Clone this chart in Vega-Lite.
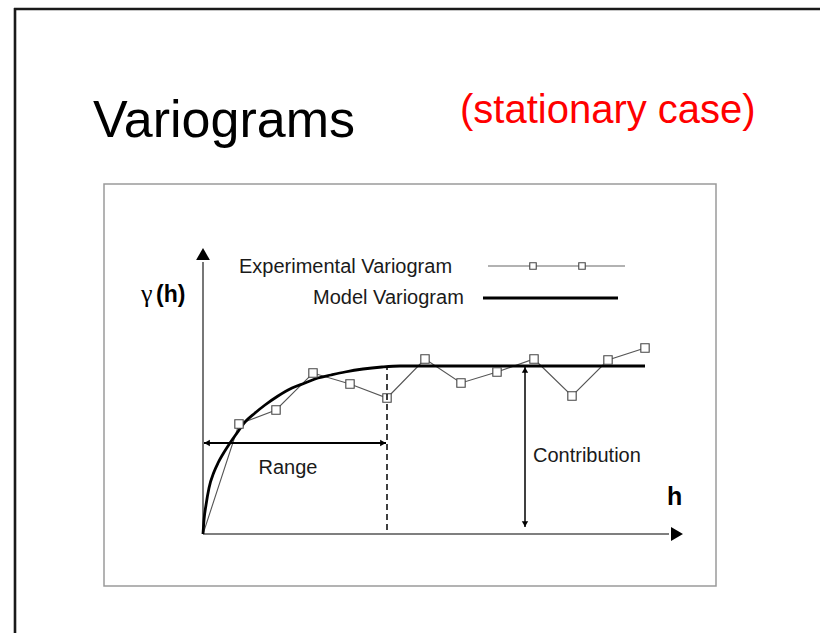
{
  "$schema": "https://vega.github.io/schema/vega-lite/v6.json",
  "width": 820,
  "height": 633,
  "autosize": "none",
  "padding": 0,
  "background": "white",
  "config": {"view": {"stroke": null}},
  "datasets": {
    "model": [
      {"h": 0, "g": 0}, {"h": 1, "g": 14}, {"h": 3, "g": 29}, {"h": 6, "g": 46}, {"h": 11, "g": 62},
      {"h": 15, "g": 71}, {"h": 20, "g": 80}, {"h": 27, "g": 91}, {"h": 34, "g": 101}, {"h": 42, "g": 112},
      {"h": 52, "g": 121}, {"h": 62, "g": 129}, {"h": 75, "g": 138}, {"h": 89, "g": 146}, {"h": 102, "g": 151},
      {"h": 115, "g": 156}, {"h": 128, "g": 159}, {"h": 142, "g": 162}, {"h": 160, "g": 165}, {"h": 179, "g": 167},
      {"h": 197, "g": 168}, {"h": 442, "g": 168}
    ],
    "experimental": [
      {"h": 0, "g": 0}, {"h": 36, "g": 110}, {"h": 73, "g": 124}, {"h": 110, "g": 161}, {"h": 147, "g": 150},
      {"h": 184, "g": 136}, {"h": 222, "g": 175}, {"h": 258, "g": 151}, {"h": 294, "g": 162}, {"h": 331, "g": 175},
      {"h": 369, "g": 138}, {"h": 405, "g": 174}, {"h": 442, "g": 186}
    ],
    "labels": [
      {"key": "title", "h": -110, "g": 397, "text": "Variograms"},
      {"key": "subtitle", "h": 257, "g": 411, "text": "(stationary case)"},
      {"key": "legend", "h": 36, "g": 261, "text": "Experimental Variogram"},
      {"key": "legend", "h": 110, "g": 230, "text": "Model Variogram"},
      {"key": "range", "h": 85, "g": 60, "text": "Range"},
      {"key": "contribution", "h": 330, "g": 72, "text": "Contribution"},
      {"key": "haxis", "h": 464, "g": 29, "text": "h"},
      {"key": "gamma", "h": -62, "g": 232, "text": "γ"},
      {"key": "gammah", "h": -47, "g": 232, "text": "(h)"}
    ]
  },
  "encoding": {
    "x": {"field": "h", "type": "quantitative", "scale": {"domain": [-203, 617], "nice": false, "zero": false}, "axis": null},
    "y": {"field": "g", "type": "quantitative", "scale": {"domain": [-99, 534], "nice": false, "zero": false}, "axis": null}
  },
  "layer": [
    {
      "data": {"values": [
        {"part": "outer-top", "h": -189, "h2": 640, "g": 525, "g2": 525},
        {"part": "outer-left", "h": -188, "h2": -188, "g": -120, "g2": 526}
      ]},
      "mark": {"type": "rule", "stroke": "#1a1a1a", "strokeWidth": 2.6},
      "encoding": {"x2": {"field": "h2"}, "y2": {"field": "g2"}}
    },
    {
      "data": {"values": [{"part": "inner-box", "h": -99, "h2": 513, "g": 350, "g2": -52}]},
      "mark": {"type": "rect", "fillOpacity": 0, "stroke": "#9a9a9a", "strokeWidth": 1.5},
      "encoding": {"x2": {"field": "h2"}, "y2": {"field": "g2"}}
    },
    {
      "data": {"values": [
        {"part": "y-axis", "h": 0, "h2": 0, "g": 0, "g2": 272},
        {"part": "x-axis", "h": 0, "h2": 466, "g": 0, "g2": 0}
      ]},
      "mark": {"type": "rule", "stroke": "#555555", "strokeWidth": 1.6},
      "encoding": {"x2": {"field": "h2"}, "y2": {"field": "g2"}}
    },
    {
      "data": {"values": [{"part": "y-arrow", "h": 0, "g": 280}]},
      "mark": {"type": "point", "shape": "triangle-up", "filled": true, "color": "#000000", "size": 190, "opacity": 1},
      "encoding": {}
    },
    {
      "data": {"values": [{"part": "x-arrow", "h": 474, "g": 0}]},
      "mark": {"type": "point", "shape": "triangle-right", "filled": true, "color": "#000000", "size": 190, "opacity": 1},
      "encoding": {}
    },
    {
      "data": {"name": "experimental"},
      "mark": {"type": "line", "stroke": "#555555", "strokeWidth": 1.1},
      "encoding": {}
    },
    {
      "data": {"name": "model"},
      "mark": {"type": "line", "stroke": "#000000", "strokeWidth": 2.8, "interpolate": "monotone"},
      "encoding": {}
    },
    {
      "data": {"name": "experimental"},
      "transform": [{"filter": "datum.h > 0"}],
      "mark": {"type": "square", "size": 70, "fill": "#ffffff", "stroke": "#444444", "strokeWidth": 1.1, "opacity": 1, "fillOpacity": 1},
      "encoding": {}
    },
    {
      "data": {"values": [{"part": "range", "h": 1, "h2": 183, "g": 91, "g2": 91}]},
      "mark": {"type": "rule", "stroke": "#000000", "strokeWidth": 1.8},
      "encoding": {"x2": {"field": "h2"}, "y2": {"field": "g2"}}
    },
    {
      "data": {"values": [{"part": "range-left", "h": 4, "g": 91}]},
      "mark": {"type": "point", "shape": "triangle-left", "filled": true, "color": "#000000", "size": 45, "opacity": 1},
      "encoding": {}
    },
    {
      "data": {"values": [{"part": "range-right", "h": 180, "g": 91}]},
      "mark": {"type": "point", "shape": "triangle-right", "filled": true, "color": "#000000", "size": 45, "opacity": 1},
      "encoding": {}
    },
    {
      "data": {"values": [{"part": "range-end", "h": 184, "h2": 184, "g": 4, "g2": 168}]},
      "mark": {"type": "rule", "stroke": "#000000", "strokeWidth": 1.5, "strokeDash": [6, 4]},
      "encoding": {"x2": {"field": "h2"}, "y2": {"field": "g2"}}
    },
    {
      "data": {"values": [{"part": "contribution", "h": 322, "h2": 322, "g": 7, "g2": 167}]},
      "mark": {"type": "rule", "stroke": "#000000", "strokeWidth": 1.5},
      "encoding": {"x2": {"field": "h2"}, "y2": {"field": "g2"}}
    },
    {
      "data": {"values": [{"part": "contribution-top", "h": 322, "g": 164}]},
      "mark": {"type": "point", "shape": "triangle-up", "filled": true, "color": "#000000", "size": 40, "opacity": 1},
      "encoding": {}
    },
    {
      "data": {"values": [{"part": "contribution-bottom", "h": 322, "g": 10}]},
      "mark": {"type": "point", "shape": "triangle-down", "filled": true, "color": "#000000", "size": 40, "opacity": 1},
      "encoding": {}
    },
    {
      "data": {"values": [{"part": "legend-experimental", "h": 285, "h2": 422, "g": 268, "g2": 268}]},
      "mark": {"type": "rule", "stroke": "#666666", "strokeWidth": 1.1},
      "encoding": {"x2": {"field": "h2"}, "y2": {"field": "g2"}}
    },
    {
      "data": {"values": [{"part": "legend-model", "h": 280, "h2": 415, "g": 236, "g2": 236}]},
      "mark": {"type": "rule", "stroke": "#000000", "strokeWidth": 3},
      "encoding": {"x2": {"field": "h2"}, "y2": {"field": "g2"}}
    },
    {
      "data": {"values": [{"part": "legend-square", "h": 330, "g": 268}, {"part": "legend-square", "h": 379, "g": 268}]},
      "mark": {"type": "square", "size": 42, "fill": "#ffffff", "stroke": "#444444", "strokeWidth": 1.1, "opacity": 1, "fillOpacity": 1},
      "encoding": {}
    },
    {
      "data": {"name": "labels"},
      "transform": [{"filter": "datum.key == 'title'"}],
      "mark": {"type": "text", "font": "Liberation Sans", "fontSize": 52, "align": "left", "baseline": "alphabetic", "color": "#000000"},
      "encoding": {"text": {"field": "text"}}
    },
    {
      "data": {"name": "labels"},
      "transform": [{"filter": "datum.key == 'subtitle'"}],
      "mark": {"type": "text", "font": "Liberation Sans", "fontSize": 40, "align": "left", "baseline": "alphabetic", "color": "#ff0000"},
      "encoding": {"text": {"field": "text"}}
    },
    {
      "data": {"name": "labels"},
      "transform": [{"filter": "datum.key == 'legend' || datum.key == 'contribution'"}],
      "mark": {"type": "text", "font": "Liberation Sans", "fontSize": 20, "align": "left", "baseline": "alphabetic", "color": "#1a1a1a"},
      "encoding": {"text": {"field": "text"}}
    },
    {
      "data": {"name": "labels"},
      "transform": [{"filter": "datum.key == 'range'"}],
      "mark": {"type": "text", "font": "Liberation Sans", "fontSize": 20, "align": "center", "baseline": "alphabetic", "color": "#1a1a1a"},
      "encoding": {"text": {"field": "text"}}
    },
    {
      "data": {"name": "labels"},
      "transform": [{"filter": "datum.key == 'haxis'"}],
      "mark": {"type": "text", "font": "Liberation Sans", "fontSize": 25, "fontWeight": "bold", "align": "left", "baseline": "alphabetic", "color": "#000000"},
      "encoding": {"text": {"field": "text"}}
    },
    {
      "data": {"name": "labels"},
      "transform": [{"filter": "datum.key == 'gamma'"}],
      "mark": {"type": "text", "font": "Liberation Serif", "fontSize": 26, "align": "left", "baseline": "alphabetic", "color": "#000000"},
      "encoding": {"text": {"field": "text"}}
    },
    {
      "data": {"name": "labels"},
      "transform": [{"filter": "datum.key == 'gammah'"}],
      "mark": {"type": "text", "font": "Liberation Sans", "fontSize": 23, "fontWeight": "bold", "align": "left", "baseline": "alphabetic", "color": "#000000"},
      "encoding": {"text": {"field": "text"}}
    }
  ]
}
